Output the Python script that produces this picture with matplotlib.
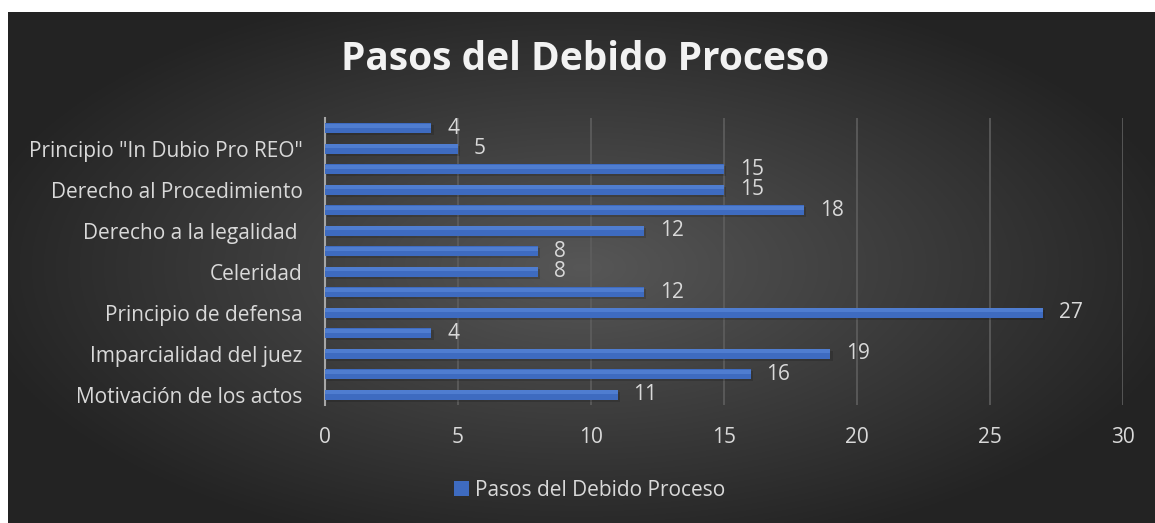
import numpy as np
import matplotlib
matplotlib.use("Agg")
import matplotlib.pyplot as plt

plt.rcParams['font.family'] = ['Open Sans', 'DejaVu Sans']

# data, bottom to top
values = [11, 16, 19, 4, 27, 12, 8, 8, 12, 18, 15, 15, 5, 4]
labels = ["Motivación de los actos", "", "Imparcialidad del juez", "",
          "Principio de defensa", "", "Celeridad", "",
          "Derecho a la legalidad ", "", "Derecho al Procedimiento", "",
          'Principio "In Dubio Pro REO"', ""]
series_name = "Pasos del Debido Proceso"
xticks = [0, 5, 10, 15, 20, 25, 30]

W, H = 1155, 523
fig = plt.figure(figsize=(W / 100, H / 100), dpi=100)
fig.patch.set_facecolor('white')

# dark radial background
bg = fig.add_axes([8 / W, 0, 1 - 8 / W, 1 - 12 / H])
yy, xx = np.mgrid[0:1:300j, 0:1:600j]
d = np.sqrt(((xx - 0.5) / 0.75) ** 2 + ((yy - 0.5) / 0.8) ** 2)
shade = np.clip(0.34 - 0.28 * d, 0.14, 0.34)
bg.imshow(np.dstack([shade] * 3), extent=[0, 1, 0, 1], aspect='auto')
bg.set_axis_off()

ax = fig.add_axes([325 / W, 1 - 405 / H, (1123 - 325) / W, (405 - 118) / H])
ax.patch.set_alpha(0)
y = np.arange(len(values))

# soft shadow, bars, lighter top strip
ax.barh(y - 0.1, values, height=0.5, color='black', alpha=0.15, zorder=2,
        left=0.08)
bars = ax.barh(y, values, height=0.5, color='#3E6BC0', zorder=3,
               label=series_name)
ax.barh(y + 0.12, values, height=0.2, color='#4F7DD0', zorder=3)
for b, v in zip(bars, values):
    ax.text(v + 0.6, b.get_y() + b.get_height() / 2, str(v), va='center',
            ha='left', color='#d9d9d9', fontsize=15, zorder=4)

ax.set_xlim(0, 30)
ax.set_ylim(-0.5, len(values) - 0.5)
ax.set_xticks(xticks)
ax.set_yticks(y)
ax.set_yticklabels(labels)
ax.tick_params(axis='both', length=0, colors='#d9d9d9', labelsize=15)
ax.tick_params(axis='x', pad=16)
ax.tick_params(axis='y', pad=16)
ax.grid(axis='x', color='#5e5e5e', linewidth=1.2, zorder=0)
for s in ['top', 'right', 'bottom']:
    ax.spines[s].set_visible(False)
ax.spines['left'].set_color('#a6a6a6')
ax.spines['left'].set_linewidth(1.5)

fig.text(585 / W, 1 - 60 / H, series_name, ha='center', va='center',
         color='#f2f2f2', fontsize=28, fontweight='bold')

leg = ax.legend(loc='center', bbox_to_anchor=(590 / W, 1 - 490 / H),
                bbox_transform=fig.transFigure, frameon=False, fontsize=15,
                handlelength=0.7, handleheight=0.7, handletextpad=0.3)
for t in leg.get_texts():
    t.set_color('#d9d9d9')

fig.savefig('out.png', dpi=100)
